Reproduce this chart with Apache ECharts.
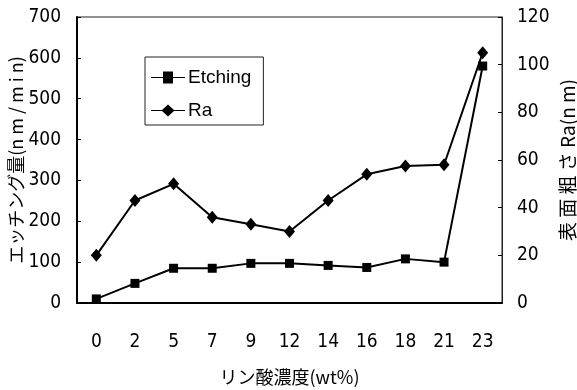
<!DOCTYPE html>
<html><head><meta charset="utf-8">
<script src="https://cdn.jsdelivr.net/npm/echarts@6/dist/echarts.min.js"></script>
<style>html,body{margin:0;padding:0;background:#fff}#c{width:577px;height:390px}</style>
</head><body><div id="c"></div>
<script>
const categories = ['0','2','5','7','9','12','14','16','18','21','23'];
const etching = [10, 48, 85, 85, 97, 97, 92, 87, 108, 100, 580];
const ra = [20, 43, 50, 36, 33, 30, 43, 54, 57.5, 58, 105];
const leftTicks = {min: 0, max: 700, interval: 100};
const rightTicks = {min: 0, max: 120, interval: 20};

const numFont = '"DejaVu Sans Condensed", "Liberation Sans", sans-serif';
const cjkFont = '"Noto Sans CJK JP", sans-serif';
const chart = echarts.init(document.getElementById('c'));
chart.setOption({
  animation: false,
  backgroundColor: '#fff',
  grid: {left: 77, right: 75, top: 17, bottom: 87, show: true, borderColor: '#222', borderWidth: 1,
         containLabel: false, outerBoundsMode: 'none'},
  legend: {
    left: 145, top: 57, width: 118, orient: 'vertical',
    padding: [11, 12, 5, 6], itemGap: 14,
    borderColor: '#222', borderWidth: 1, backgroundColor: '#fff',
    itemWidth: 34, itemHeight: 12,
    textStyle: {fontFamily: '"Liberation Sans", sans-serif', fontSize: 19, color: '#000', padding: [0,0,0,-2]},
    data: [
      {name: 'Etching', icon: 'path://M0,5.5 L12,5.5 L12,0 L22,0 L22,5.5 L34,5.5 L34,6.5 L22,6.5 L22,12 L12,12 L12,6.5 L0,6.5 Z'},
      {name: 'Ra', icon: 'path://M0,5.5 L11,5.5 L17,0 L23,5.5 L34,5.5 L34,6.5 L23,6.5 L17,12 L11,6.5 L0,6.5 Z'}
    ]
  },
  xAxis: {
    type: 'category', data: categories, boundaryGap: true,
    name: 'リン酸濃度(wt%)', nameLocation: 'middle', nameGap: 65,
    nameTextStyle: {fontFamily: cjkFont, fontSize: 18, color: '#000'},
    axisLine: {lineStyle: {color: '#000', width: 2}},
    axisTick: {inside: true, length: 7, lineStyle: {color: '#000', width: 1.5}},
    axisLabel: {margin: 30, fontFamily: numFont, fontSize: 19, color: '#000'},
    splitLine: {show: false}
  },
  yAxis: [
    {
      type: 'value', position: 'left', ...leftTicks,
      name: 'エッチング量(n m / m i n)', nameLocation: 'middle', nameRotate: 90, nameGap: 52,
      nameMoveOverlap: false,
      nameTextStyle: {fontFamily: cjkFont, fontSize: 18, color: '#000'},
      axisLine: {show: true, lineStyle: {color: '#000', width: 2}},
      axisTick: {show: true, inside: true, length: 4, lineStyle: {color: '#000'}},
      axisLabel: {margin: 16, fontFamily: numFont, fontSize: 19, color: '#000'},
      splitLine: {show: false}
    },
    {
      type: 'value', position: 'right', ...rightTicks,
      name: '表 面 粗 さ Ra(n m)', nameLocation: 'middle', nameRotate: 90, nameGap: 56,
      nameMoveOverlap: false,
      nameTextStyle: {fontFamily: cjkFont, fontSize: 19, color: '#000'},
      axisLine: {show: true, lineStyle: {color: '#222', width: 1}},
      axisTick: {show: true, inside: true, length: 4, lineStyle: {color: '#000'}},
      axisLabel: {margin: 15, fontFamily: numFont, fontSize: 19, color: '#000'},
      splitLine: {show: false}
    }
  ],
  series: [
    {
      name: 'Etching', type: 'line', yAxisIndex: 0, data: etching,
      symbol: 'rect', symbolSize: 9,
      lineStyle: {color: '#000', width: 2}, itemStyle: {color: '#000'}
    },
    {
      name: 'Ra', type: 'line', yAxisIndex: 1, data: ra,
      symbol: 'diamond', symbolSize: [11, 13],
      lineStyle: {color: '#000', width: 2}, itemStyle: {color: '#000'}
    }
  ]
});
</script></body></html>
